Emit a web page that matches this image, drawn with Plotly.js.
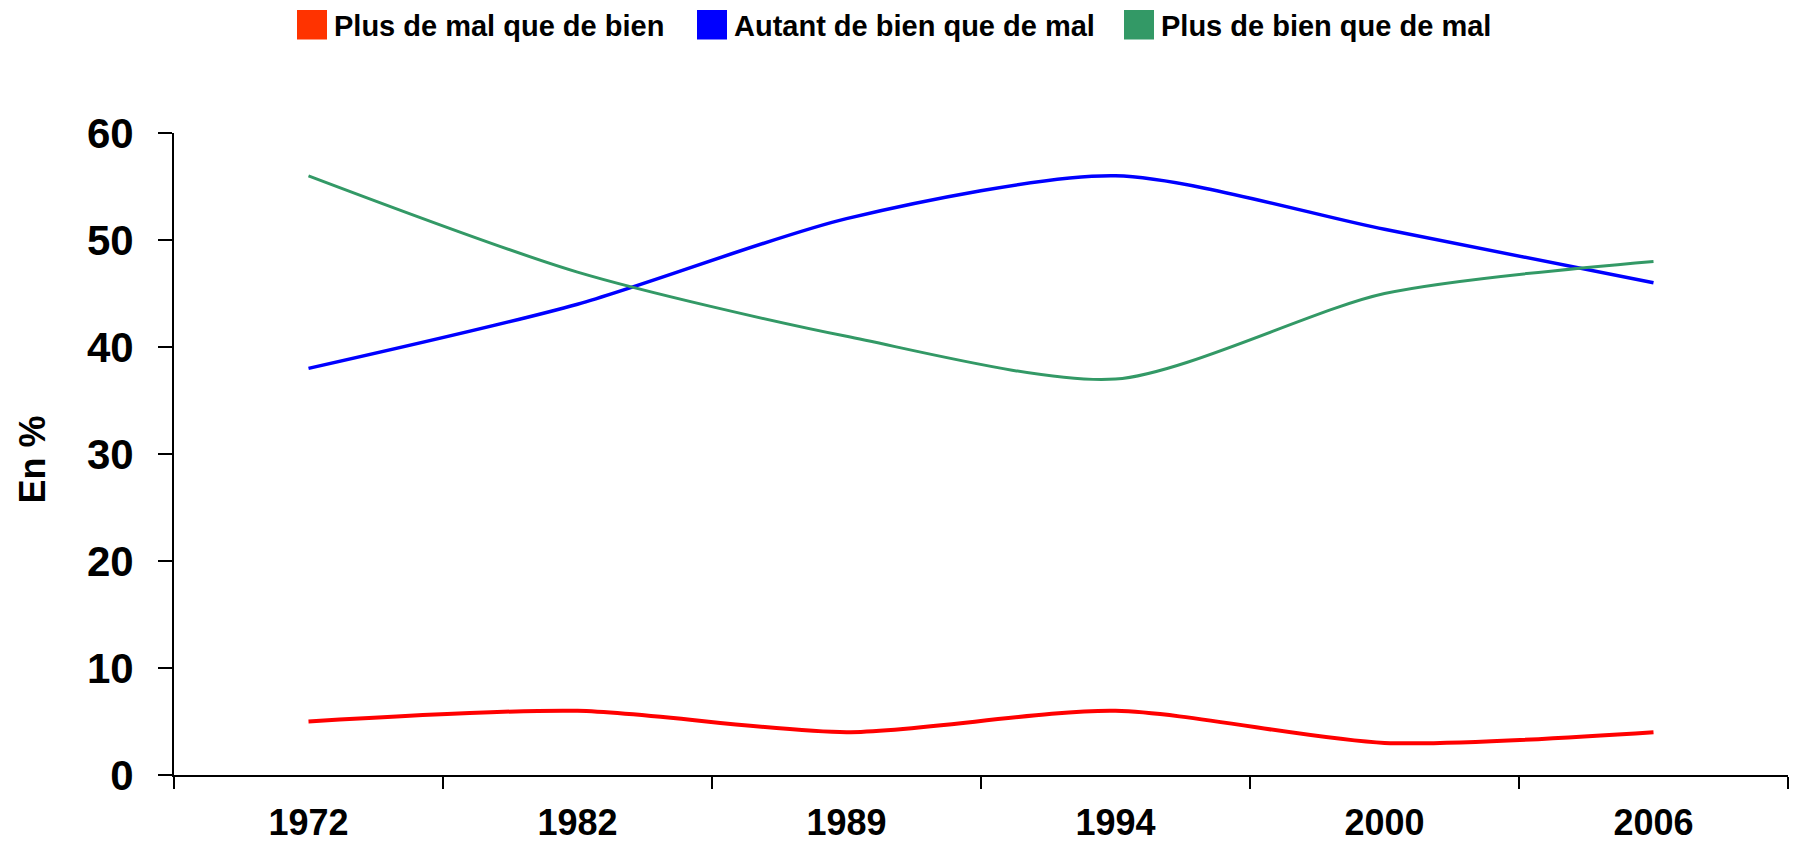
<!DOCTYPE html>
<html>
<head>
<meta charset="utf-8">
<script src="https://cdn.plot.ly/plotly-3.0.1.min.js"></script>
<style>html,body{margin:0;padding:0;background:#fff;}#chart{width:1793px;height:843px;}</style>
</head>
<body>
<div id="chart"></div>
<script>
// Data
const years = ["1972", "1982", "1989", "1994", "2000", "2006"];
const plusMal = [5, 6, 4, 6, 3, 4];          // Plus de mal que de bien
const autant = [38, 44, 52, 56, 51, 46];     // Autant de bien que de mal
const plusBien = [56, 47, 41, 37, 45, 48];   // Plus de bien que de mal
const seriesNames = ["Plus de mal que de bien", "Autant de bien que de mal", "Plus de bien que de mal"];
const yTicks = [0, 10, 20, 30, 40, 50, 60];

const lineColors = ["#FF0000", "#0000FF", "#339966"];
const legendColors = ["#FF3300", "#0000FF", "#339966"];
const lineWidths = [4, 3.5, 3];
const values = [plusMal, autant, plusBien];

const FONT = "Liberation Sans, Arial, sans-serif";

// plot area in pixels (for placing the hand-made legend)
const W = 1793, H = 843, ML = 174, MR = 5, MT = 133, MB = 68;
const PW = W - ML - MR, PH = H - MT - MB;
const px2x = p => (p - ML) / PW;
const py2y = p => (H - MB - p) / PH;

const traces = values.map((v, i) => ({
  x: years, y: v, type: "scatter", mode: "lines",
  name: seriesNames[i], showlegend: false,
  line: {color: lineColors[i], width: lineWidths[i], shape: "spline", smoothing: 0.75},
  hoverinfo: "x+y"
}));

// legend: square swatches + bold labels
const legendTextX = [334, 734, 1161];
const shapes = [];
const annotations = [];
seriesNames.forEach((n, i) => {
  const sx = legendTextX[i] - 37;
  shapes.push({
    type: "rect", xref: "paper", yref: "paper",
    x0: px2x(sx), x1: px2x(sx + 30), y0: py2y(39.5), y1: py2y(10),
    fillcolor: legendColors[i], line: {width: 0}
  });
  annotations.push({
    text: n, xref: "paper", yref: "paper",
    x: px2x(legendTextX[i]), y: py2y(26.5), xanchor: "left", yanchor: "middle",
    showarrow: false, borderpad: 0, borderwidth: 0,
    font: {family: FONT, size: 29, color: "#000", weight: "bold"}
  });
});
annotations.push({
  text: "En %", xref: "paper", yref: "paper",
  x: px2x(31.5), y: py2y(460),
  xanchor: "center", yanchor: "middle", textangle: -90, showarrow: false,
  font: {family: FONT, size: 36, color: "#000", weight: "bold"}
});

const layout = {
  width: W, height: H,
  margin: {l: ML, r: MR, t: MT, b: MB},
  paper_bgcolor: "#ffffff", plot_bgcolor: "#ffffff",
  font: {family: FONT, color: "#000000"},
  showlegend: false,
  xaxis: {
    type: "category", categoryorder: "array", categoryarray: years,
    range: [-0.5, 5.5], tickson: "boundaries",
    showline: true, linecolor: "#000", linewidth: 2,
    ticks: "outside", ticklen: 12, tickwidth: 2, tickcolor: "#000",
    showgrid: false, zeroline: false,
    tickfont: {family: FONT, size: 36, color: "#000", weight: "bold"},
    ticklabelstandoff: 15, fixedrange: true
  },
  yaxis: {
    range: [0, 60], tickvals: yTicks, ticktext: yTicks.map(String),
    showline: true, linecolor: "#000", linewidth: 2,
    ticks: "outside", ticklen: 14, tickwidth: 2, tickcolor: "#000",
    showgrid: false, zeroline: false,
    tickfont: {family: FONT, size: 42, color: "#000", weight: "bold"},
    ticklabelstandoff: 16, fixedrange: true
  },
  shapes: shapes,
  annotations: annotations
};

Plotly.newPlot("chart", traces, layout, {displayModeBar: false, staticPlot: true});
</script>
</body>
</html>
